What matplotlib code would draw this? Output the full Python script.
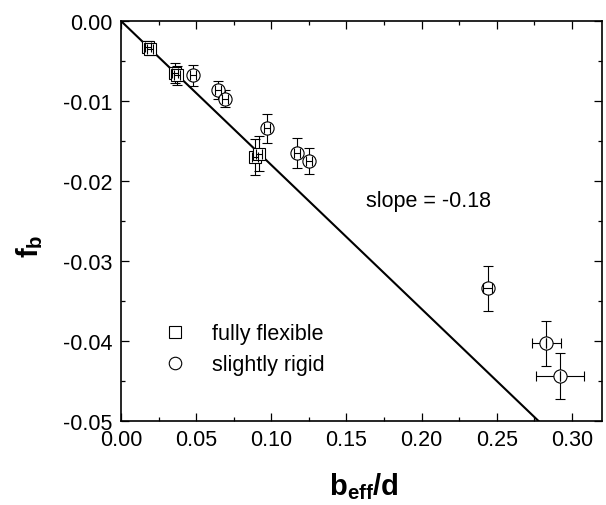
import matplotlib
matplotlib.use("Agg")
import matplotlib.pyplot as plt
from matplotlib.ticker import MultipleLocator, FuncFormatter

plt.rcParams['font.family'] = ['Liberation Sans', 'DejaVu Sans']
plt.rcParams['mathtext.fontset'] = 'custom'
plt.rcParams['mathtext.rm'] = 'Liberation Sans'
plt.rcParams['mathtext.bf'] = 'Liberation Sans:bold'
plt.rcParams['mathtext.it'] = 'Liberation Sans:italic'

# fully flexible (squares)
ff_x = [0.018, 0.019, 0.036, 0.037, 0.089, 0.092]
ff_y = [-0.0032, -0.0035, -0.0065, -0.0068, -0.0170, -0.0166]
ff_xerr = [0.002, 0.002, 0.002, 0.002, 0.002, 0.002]
ff_yerr = [0.0007, 0.0007, 0.0012, 0.0012, 0.0022, 0.0022]

# slightly rigid (circles)
sr_x = [0.048, 0.0645, 0.069, 0.097, 0.117, 0.125, 0.244, 0.283, 0.292]
sr_y = [-0.0068, -0.0086, -0.0097, -0.0134, -0.0165, -0.0175, -0.0334, -0.0403, -0.0444]
sr_xerr = [0.002, 0.002, 0.002, 0.002, 0.002, 0.002, 0.003, 0.0097, 0.0158]
sr_yerr = [0.0013, 0.0011, 0.0011, 0.0018, 0.0019, 0.0016, 0.0028, 0.0028, 0.0029]

slope = -0.18
line_x = [0.0, 0.32]

fig = plt.figure(figsize=(6.06, 5.06), dpi=100)
ax = fig.add_axes([121/606, 84/506, 481/606, 400/506])

ax.plot(line_x, [slope * v for v in line_x], color='black', lw=1.5, zorder=2)

ekw = dict(ecolor='black', elinewidth=0.8, capsize=3.5, capthick=0.8)
for xs, ys, xe, ye, mk, ms in [(ff_x, ff_y, ff_xerr, ff_yerr, 's', 8.5),
                               (sr_x, sr_y, sr_xerr, sr_yerr, 'o', 9.5)]:
    big = [e if e > 0.004 else 0 for e in xe]
    small = [e if e <= 0.004 else 0 for e in xe]
    ax.errorbar(xs, ys, xerr=big, yerr=ye, fmt='none', zorder=3, **ekw)
    ax.plot(xs, ys, mk, ms=ms, mfc='white', mec='black', mew=0.8, zorder=4)
    ax.errorbar(xs, ys, xerr=small, fmt='none', zorder=5, **ekw)

ax.set_xlim(0, 0.32)
ax.set_ylim(-0.05, 0.0)
ax.xaxis.set_major_locator(MultipleLocator(0.05))
ax.xaxis.set_minor_locator(MultipleLocator(0.025))
ax.yaxis.set_major_locator(MultipleLocator(0.01))
ax.yaxis.set_minor_locator(MultipleLocator(0.005))
fmt = FuncFormatter(lambda v, p: ('%.2f' % v).replace('-0.00', '0.00'))
ax.xaxis.set_major_formatter(fmt)
ax.yaxis.set_major_formatter(fmt)
ax.tick_params(which='both', direction='in', top=True, right=True, labelsize=15.5,
               width=0.9)
ax.tick_params(which='major', length=5.5, pad=6)
ax.tick_params(which='minor', length=3)
for s in ax.spines.values():
    s.set_linewidth(1.2)

# legend (manual)
ax.plot([0.036], [-0.0389], 's', ms=8, mfc='white', mec='black', mew=0.8, zorder=4)
ax.plot([0.036], [-0.0428], 'o', ms=9, mfc='white', mec='black', mew=0.8, zorder=4)
ax.text(0.0607, -0.0397, 'fully flexible', fontsize=15.5, va='baseline', ha='left')
ax.text(0.0607, -0.0436, 'slightly rigid', fontsize=15.5, va='baseline', ha='left')

ax.text(0.1633, -0.0231, 'slope = -0.18', fontsize=15.5, va='baseline', ha='left')

fig.text(364/606, 1 - 495/506, r'$\mathbf{b}_{\mathbf{eff}}\mathbf{/d}$', fontsize=21,
         ha='center', va='baseline')
fig.text(30/606, 1 - 246/506, r'$\mathbf{f}_{\mathbf{b}}$', fontsize=21,
         ha='center', va='center', rotation=90)

fig.savefig('out.png', dpi=100)
